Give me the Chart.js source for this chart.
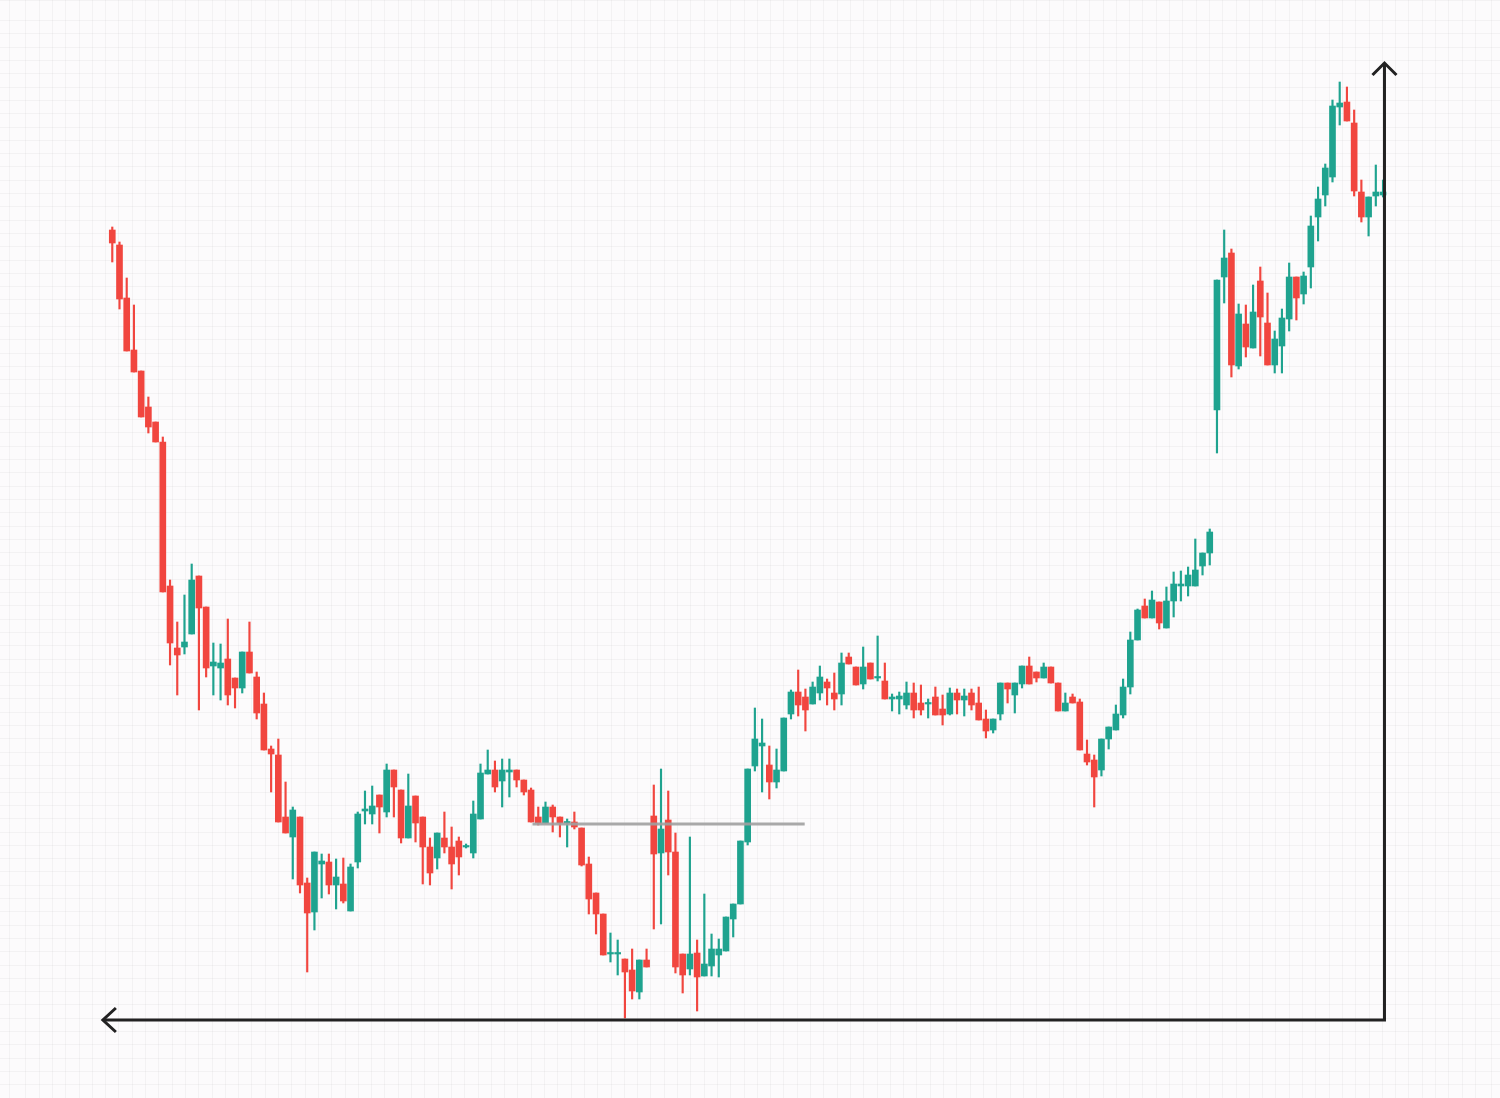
<!DOCTYPE html>
<html>
<head>
<meta charset="utf-8">
<script src="https://cdn.jsdelivr.net/npm/chart.js@4.4.1/dist/chart.umd.min.js"></script>
<style>
  html, body { margin: 0; padding: 0; background: #fcfbfc; }
  #wrap { width: 1500px; height: 1098px; }
</style>
</head>
<body>
<div id="wrap"><canvas id="grafica"></canvas></div>
<script>
// OHLC, arbitrary price units (no axis labels in the picture)
const open = [
  86.8, 85.3, 80.0, 74.8, 72.7, 69.1, 67.6, 65.6, 51.2, 45.0,
  45.1, 46.4, 52.2, 49.1, 43.2, 43.0, 43.9, 42.0, 41.0, 44.6,
  42.1, 39.4, 34.9, 34.3, 28.1, 26.1, 28.1, 21.5, 18.6, 23.4,
  23.6, 21.3, 21.4, 18.7, 23.6, 28.7, 28.4, 30.3, 28.6, 32.8,
  30.8, 26.0, 30.2, 28.1, 25.1, 24.0, 26.0, 25.1, 25.7, 25.1,
  24.5, 27.9, 32.4, 32.8, 31.7, 32.6, 32.8, 31.8, 30.8, 28.1,
  27.5, 29.1, 28.1, 27.5, 27.6, 27.0, 23.4, 20.5, 18.4, 14.4,
  14.4, 13.9, 12.8, 10.6, 13.8, 28.2, 24.5, 27.8, 24.6, 14.4,
  12.9, 14.5, 12.2, 13.2, 14.3, 14.7, 17.9, 19.4, 25.6, 33.2,
  35.2, 33.3, 31.6, 32.7, 38.4, 40.6, 40.1, 39.4, 40.5, 41.6,
  40.5, 40.4, 44.1, 43.1, 41.4, 43.5, 42.0, 41.7, 39.9, 39.9,
  39.3, 40.5, 39.5, 39.4, 40.1, 38.9, 38.4, 40.5, 39.8, 40.5,
  39.5, 37.9, 36.8, 38.4, 41.5, 40.3, 41.4, 43.2, 42.6, 42.0,
  43.1, 41.5, 38.7, 40.1, 39.6, 34.4, 33.8, 32.8, 35.9, 36.8,
  38.3, 41.1, 45.8, 49.2, 48.0, 49.6, 47.0, 49.7, 51.2, 51.2,
  51.2, 53.2, 54.5, 68.8, 82.1, 84.5, 73.2, 77.4, 75.0, 81.7,
  77.5, 73.3, 75.2, 77.9, 82.1, 80.4, 83.1, 88.1, 90.3, 92.1,
  99.1, 99.6, 97.5, 90.6, 88.1, 90.2, 90.3
];
const high = [
  87.1, 85.6, 82.0, 79.3, 72.7, 70.1, 67.6, 66.1, 51.8, 47.6,
  50.3, 53.4, 52.2, 49.1, 45.5, 45.4, 47.9, 42.0, 44.6, 47.6,
  42.6, 40.5, 35.2, 35.9, 31.6, 29.1, 28.1, 22.0, 24.6, 24.4,
  24.4, 23.9, 24.0, 23.4, 28.6, 30.7, 31.2, 30.3, 33.4, 32.8,
  30.8, 32.4, 30.2, 28.1, 26.0, 26.5, 28.6, 27.1, 26.1, 25.4,
  29.7, 33.4, 34.8, 33.7, 33.9, 33.9, 32.8, 31.8, 31.0, 29.1,
  29.6, 29.3, 28.1, 27.9, 28.6, 27.0, 24.1, 20.5, 18.4, 16.5,
  15.8, 13.9, 14.9, 13.8, 14.9, 31.3, 32.9, 30.7, 26.5, 14.4,
  26.1, 15.8, 20.4, 16.4, 15.9, 18.1, 19.4, 25.7, 32.9, 39.0,
  37.9, 35.2, 34.9, 38.0, 40.8, 42.8, 40.9, 41.6, 43.2, 41.9,
  42.5, 44.5, 44.5, 43.1, 45.1, 43.5, 46.2, 43.5, 40.4, 40.6,
  41.6, 41.5, 41.3, 39.9, 41.1, 40.3, 41.0, 40.9, 40.9, 40.9,
  41.1, 38.8, 37.9, 41.5, 41.5, 41.5, 43.2, 44.1, 42.6, 43.5,
  43.1, 41.5, 40.5, 40.4, 39.9, 35.8, 34.3, 35.9, 37.1, 39.3,
  41.9, 46.6, 48.9, 49.9, 50.7, 49.6, 51.1, 52.6, 52.7, 53.1,
  55.9, 54.5, 56.9, 81.8, 86.8, 84.9, 79.4, 79.3, 81.3, 83.1,
  80.5, 76.7, 78.9, 83.5, 82.1, 82.6, 88.2, 91.1, 93.4, 99.8,
  101.6, 101.1, 98.8, 91.8, 90.1, 93.3, 91.8
];
const low = [
  83.6, 78.9, 74.7, 72.6, 68.1, 66.5, 65.6, 50.6, 43.3, 40.3,
  44.4, 46.4, 38.8, 42.1, 40.3, 39.8, 39.3, 39.0, 40.5, 42.5,
  37.9, 34.8, 30.6, 27.6, 26.5, 21.9, 20.5, 12.6, 16.8, 20.0,
  20.4, 18.9, 19.5, 18.7, 23.0, 27.4, 27.4, 26.5, 28.1, 28.1,
  25.5, 26.0, 25.6, 21.4, 21.3, 22.9, 24.5, 20.9, 22.3, 25.0,
  24.0, 27.9, 32.4, 30.6, 29.1, 30.1, 31.1, 30.3, 27.6, 27.3,
  27.5, 26.6, 26.1, 25.1, 26.9, 23.2, 18.4, 16.4, 14.3, 13.6,
  12.3, 8.0, 9.9, 9.9, 13.1, 16.9, 17.4, 22.3, 12.5, 10.5,
  12.3, 8.7, 12.2, 12.2, 12.1, 14.7, 16.1, 19.4, 25.3, 32.7,
  30.6, 29.9, 31.0, 32.7, 37.9, 38.2, 36.7, 39.4, 39.8, 39.3,
  38.8, 39.3, 43.4, 41.3, 40.9, 41.9, 41.7, 39.9, 38.7, 38.4,
  38.9, 38.0, 38.3, 38.0, 38.3, 37.3, 38.3, 38.4, 38.2, 38.8,
  37.8, 36.0, 36.5, 37.8, 39.5, 38.5, 41.0, 41.4, 41.6, 42.0,
  41.5, 38.7, 38.7, 39.5, 34.8, 33.3, 29.1, 32.2, 34.9, 36.8,
  38.0, 40.4, 45.8, 48.0, 48.0, 46.9, 47.0, 48.1, 49.7, 50.2,
  51.2, 52.3, 53.3, 64.5, 79.5, 72.1, 72.9, 74.1, 75.0, 74.2,
  73.3, 72.5, 72.5, 76.7, 77.8, 79.4, 81.0, 85.7, 89.2, 91.6,
  97.3, 97.7, 90.2, 87.6, 86.2, 89.2, 90.1
];
const close = [
  85.5, 79.9, 74.7, 72.6, 68.1, 67.1, 65.6, 50.6, 45.5, 44.3,
  45.6, 51.8, 49.0, 43.0, 43.6, 43.5, 40.3, 41.0, 44.6, 42.5,
  38.5, 34.8, 34.4, 27.6, 26.5, 28.8, 21.3, 18.5, 24.6, 23.7,
  21.3, 22.1, 19.7, 23.1, 28.4, 28.9, 29.2, 29.1, 32.8, 31.1,
  26.0, 29.2, 27.5, 25.1, 22.5, 26.5, 25.1, 23.4, 24.1, 25.2,
  28.4, 32.5, 32.8, 31.1, 32.8, 32.8, 31.8, 30.6, 27.6, 27.5,
  29.1, 28.1, 27.5, 27.6, 27.1, 23.3, 19.9, 18.4, 14.3, 14.5,
  14.5, 12.6, 10.7, 13.8, 13.1, 24.4, 26.9, 24.6, 13.1, 12.3,
  14.4, 12.1, 13.4, 14.9, 14.9, 18.1, 19.4, 25.7, 32.9, 35.9,
  35.5, 31.6, 32.8, 38.0, 40.6, 39.3, 38.8, 41.1, 42.1, 41.0,
  39.9, 43.5, 43.4, 41.3, 43.1, 41.9, 42.1, 39.9, 40.1, 40.2,
  40.5, 38.8, 38.8, 39.5, 38.3, 38.3, 40.5, 39.8, 40.2, 39.3,
  37.8, 36.7, 37.9, 41.5, 40.9, 41.5, 43.2, 41.4, 42.0, 43.1,
  41.5, 38.7, 39.5, 39.5, 34.8, 33.6, 32.1, 35.9, 37.1, 38.4,
  41.1, 45.8, 48.8, 48.0, 49.8, 47.5, 49.7, 51.4, 51.4, 52.3,
  52.8, 54.5, 56.6, 81.8, 84.0, 73.3, 78.4, 75.1, 78.6, 78.1,
  73.3, 75.9, 78.0, 82.1, 80.0, 82.2, 87.2, 89.9, 93.0, 99.2,
  99.5, 97.7, 90.7, 88.1, 90.1, 90.6, 90.6
];

// horizontal level line (grey) and axis extents, in chart units
const levelFrom = 58.2;
const levelTo = 95.9;
const levelPrice = 27.4;
const axisLeft = -1.3;
const axisRight = 176.2;
const axisBottom = 7.8;
const axisTop = 103.5;

const UP = "#1fa38f";
const DOWN = "#f1463f";

const idx = open.map((_, i) => i);
const colores = idx.map(i => close[i] >= open[i] ? UP : DOWN);

const flechas = {
  id: "flechas",
  afterDatasetsDraw(chart) {
    const { ctx, scales } = chart;
    const xl = scales.x.getPixelForValue(axisLeft);
    const xr = scales.x.getPixelForValue(axisRight);
    const yb = scales.y.getPixelForValue(axisBottom);
    const yt = scales.y.getPixelForValue(axisTop);
    ctx.save();
    ctx.strokeStyle = "#222222";
    ctx.lineWidth = 3;
    ctx.lineJoin = "miter";
    ctx.beginPath();
    ctx.moveTo(xl, yb);
    ctx.lineTo(xr, yb);
    ctx.lineTo(xr, yt);
    ctx.stroke();
    ctx.beginPath();
    ctx.moveTo(xr - 12, yt + 12);
    ctx.lineTo(xr, yt);
    ctx.lineTo(xr + 12, yt + 12);
    ctx.moveTo(xl + 13, yb - 12);
    ctx.lineTo(xl, yb);
    ctx.lineTo(xl + 13, yb + 12);
    ctx.stroke();
    ctx.restore();
  }
};

const gridOpts = { color: "rgba(0,0,0,0.035)", drawTicks: false, lineWidth: 1 };

new Chart(document.getElementById("grafica"), {
  type: "bar",
  data: {
    datasets: [
      {
        type: "line",
        data: [{ x: levelFrom, y: levelPrice }, { x: levelTo, y: levelPrice }],
        borderColor: "rgba(160,160,160,0.9)",
        borderWidth: 3,
        pointRadius: 0,
        order: 0
      },
      {
        data: idx.map(i => ({ x: i, y: [open[i], close[i]] })),
        backgroundColor: colores,
        barThickness: 6,
        minBarLength: 1.5,
        grouped: false,
        order: 1
      },
      {
        data: idx.map(i => ({ x: i, y: [low[i], high[i]] })),
        backgroundColor: colores,
        barThickness: 1.5,
        grouped: false,
        order: 2
      }
    ]
  },
  options: {
    responsive: true,
    maintainAspectRatio: false,
    animation: false,
    layout: { padding: 0 },
    plugins: { legend: { display: false }, tooltip: { enabled: false } },
    scales: {
      x: {
        type: "linear",
        min: -15.55,
        max: 192.2,
        offset: false,
        ticks: { display: false, stepSize: 1.842, maxTicksLimit: 1000 },
        grid: gridOpts,
        border: { display: false }
      },
      y: {
        type: "linear",
        min: 0,
        max: 109.8,
        ticks: { display: false, stepSize: 1.33, maxTicksLimit: 1000 },
        grid: gridOpts,
        border: { display: false }
      }
    }
  },
  plugins: [flechas]
});
</script>
</body>
</html>
